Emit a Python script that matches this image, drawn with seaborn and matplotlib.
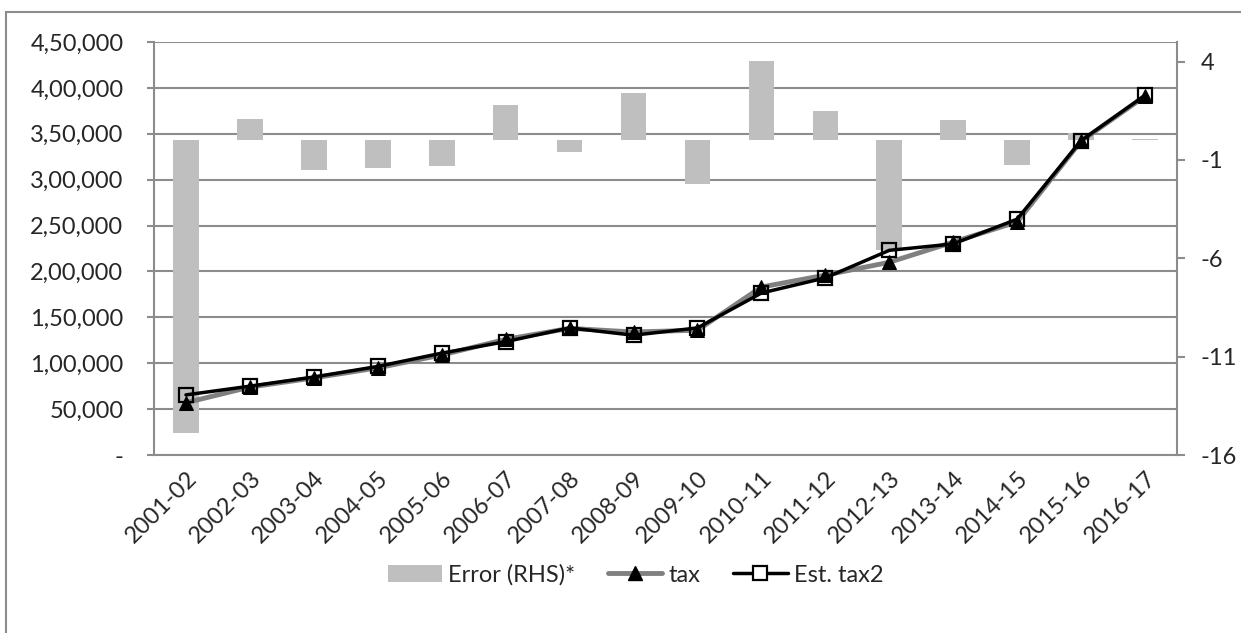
import numpy as np
import matplotlib
matplotlib.use("Agg")
import matplotlib.pyplot as plt
from matplotlib.lines import Line2D
from matplotlib.patches import Patch, Rectangle
import seaborn as sns

# ---- data -------------------------------------------------------------
categories = ["2001-02", "2002-03", "2003-04", "2004-05", "2005-06", "2006-07",
              "2007-08", "2008-09", "2009-10", "2010-11", "2011-12", "2012-13",
              "2013-14", "2014-15", "2015-16", "2016-17"]
tax = [57000, 74000, 84000, 95000, 109000, 126000, 138000, 134000,
       136000, 183000, 196000, 210000, 232000, 254000, 342000, 391000]
est_tax2 = [65500, 75000, 85000, 96500, 111000, 123500, 138500, 130500,
            138500, 176500, 193000, 223000, 230000, 257000, 342500, 392000]
error_rhs = [-14.9, 1.06, -1.51, -1.43, -1.30, 1.82, -0.58, 2.43,
             -2.24, 4.04, 1.50, -5.58, 1.03, -1.23, 0.35, 0.05]

left_ticks = [0, 50000, 100000, 150000, 200000, 250000, 300000, 350000, 400000, 450000]
left_tick_labels = ["-", "50,000", "1,00,000", "1,50,000", "2,00,000", "2,50,000",
                    "3,00,000", "3,50,000", "4,00,000", "4,50,000"]
right_ticks = [-16, -11, -6, -1, 4]
legend_labels = ["Error (RHS)*", "tax", "Est. tax2"]

# ---- style ------------------------------------------------------------
sns.set_theme(style="white")
plt.rcParams["font.family"] = ["Lato", "DejaVu Sans"]
FS = 17
GRID = "#8c8c8c"
BAR = "#bfbfbf"

fig = plt.figure(figsize=(12.41, 6.33), dpi=100)
pos = [154 / 1241, 1 - 455 / 633, (1177 - 154) / 1241, (455 - 42) / 633]

# base axes: left scale, gridlines, category axis
ax = fig.add_axes(pos)
ax.set_zorder(1)
ax.set_ylim(0, 450000)
ax.set_yticks(left_ticks)
ax.set_yticklabels(left_tick_labels, fontsize=FS)
ax.yaxis.grid(True, color=GRID, lw=1.5)
ax.xaxis.grid(False)
n = len(categories)
x = np.arange(n)
ax.set_xlim(-0.5, n - 0.5)
ax.set_xticks(x)
ax.set_xticklabels(categories, fontsize=FS, rotation=45, ha="right",
                   rotation_mode="anchor")
ax.set_xticks(np.arange(n + 1) - 0.5, minor=True)
ax.tick_params(axis="x", which="major", length=0, pad=9)
ax.tick_params(axis="x", which="minor", length=5.5, width=1.5, color=GRID)
ax.tick_params(axis="y", length=5, width=1.5, color=GRID, left=True, pad=17)
for s in ["top", "right"]:
    ax.spines[s].set_visible(False)
for s in ["left", "bottom"]:
    ax.spines[s].set_color(GRID)
    ax.spines[s].set_linewidth(1.5)

# right scale: error bars
ax_r = ax.twinx()
ax_r.set_zorder(2)
ax_r.patch.set_visible(False)
sns.barplot(x=x, y=error_rhs, ax=ax_r, color=BAR, saturation=1, width=0.4,
            linewidth=0)
ax_r.set_xlim(-0.5, n - 0.5)
ax_r.set_ylim(-16, 5)
ax_r.set_yticks(right_ticks)
ax_r.set_yticklabels([str(t) for t in right_ticks], fontsize=FS)
ax_r.tick_params(axis="y", length=6, width=1.5, color=GRID, right=True, pad=11)
ax_r.set_xlabel("")
ax_r.set_ylabel("")
ax_r.grid(False)
for s in ["top", "left", "bottom"]:
    ax_r.spines[s].set_visible(False)
ax_r.spines["right"].set_color(GRID)
ax_r.spines["right"].set_linewidth(1.5)
ax_r.tick_params(axis="x", which="both", length=0, labelbottom=False)

# line layer on the left scale, above the bars
ax_l = fig.add_axes(pos, sharey=ax)
ax_l.set_zorder(3)
ax_l.patch.set_visible(False)
tax_style = dict(color="#808080", lw=3.5, marker="^", markersize=10,
                 markerfacecolor="black", markeredgecolor="black")
est_style = dict(color="black", lw=2.5, marker="s", markersize=10,
                 markerfacecolor="none", markeredgecolor="black",
                 markeredgewidth=1.6)
sns.lineplot(x=x, y=est_tax2, ax=ax_l, zorder=3, **est_style)
sns.lineplot(x=x, y=tax, ax=ax_l, zorder=2, **tax_style)
ax_l.set_xlim(-0.5, n - 0.5)
ax_l.set_ylim(0, 450000)
ax_l.axis("off")

# legend
handles = [
    Patch(facecolor=BAR, edgecolor="none"),
    Line2D([], [], **tax_style),
    Line2D([], [], **{**est_style, "markerfacecolor": "white"}),
]
fig.legend(handles, legend_labels, loc="center", bbox_to_anchor=(0.512, 1 - 575 / 633),
           ncol=3, frameon=False, fontsize=FS, handlelength=2.3,
           handletextpad=0.25, columnspacing=1.4)

# chart-area border
fig.patches.append(Rectangle((6 / 1241, -0.05), 1.2, 1 - 12 / 633 + 0.05,
                             transform=fig.transFigure, fill=False,
                             edgecolor=GRID, lw=1.5, zorder=0))

fig.savefig("out.png", dpi=100)
